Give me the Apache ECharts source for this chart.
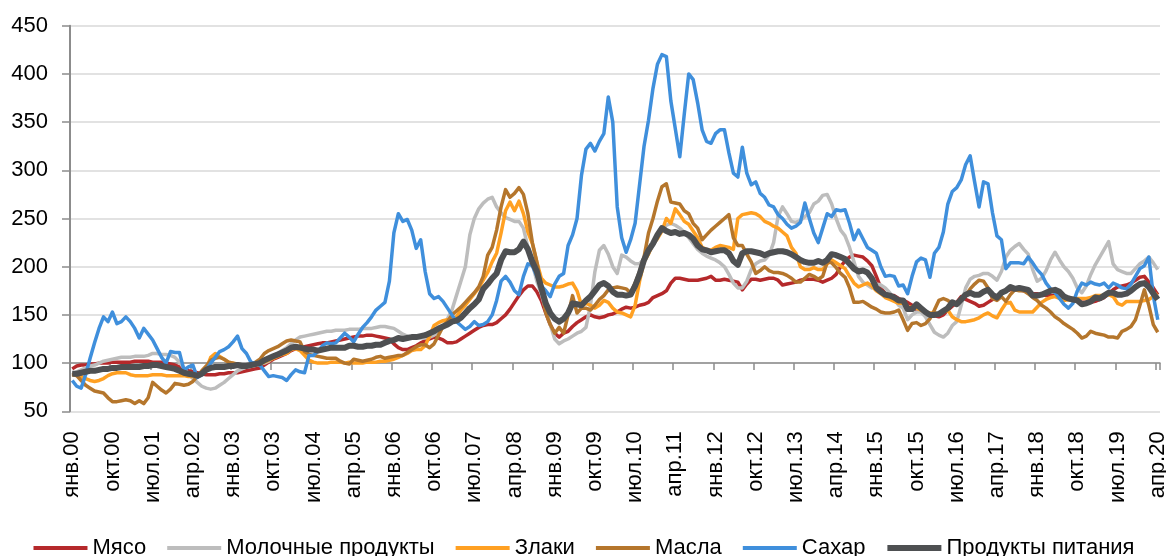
<!DOCTYPE html>
<html><head><meta charset="utf-8">
<script src="https://cdn.jsdelivr.net/npm/echarts@6/dist/echarts.min.js"></script>
<style>html,body{margin:0;padding:0;background:#fff}#c{width:1166px;height:556px}</style>
</head><body><div id="c"></div>
<script>
// Category labels: month abbreviations and years (monthly, янв.2000 – апр.2020)
const monthAbbr = ['янв','фев','мар','апр','май','июн','июл','авг','сен','окт','ноя','дек'];
const yearLabels = ['00','01','02','03','04','05','06','07','08','09','10','11','12','13','14','15','16','17','18','19','20'];
const monthsInLastYear = 4;

const seriesNames = ['Мясо','Молочные продукты','Злаки','Масла','Сахар','Продукты питания'];

const meat = [
 94,97,98,98,99,99,100,100,100,101,101,101,
 101,101,102,102,102,102,101,101,101,100,99,98,
 96,94,92,91,90,89,88,88,88,89,89,90,
 90,90,91,92,93,94,95,98,101,104,106,108,
 110,113,115,116,117,118,119,120,121,121,122,123,
 124,125,126,127,128,128,129,129,128,127,126,125,
 120,116,114,114,116,118,121,123,125,127,126,124,
 121,121,122,125,128,131,134,137,139,140,140,142,
 146,150,156,163,170,176,180,180,174,165,152,140,
 131,127,131,133,138,142,145,148,150,148,147,148,
 150,151,153,156,158,157,158,160,161,163,168,170,
 172,175,183,188,188,187,186,186,186,187,188,190,
 186,186,187,186,185,184,176,182,187,187,186,187,
 188,188,186,181,182,183,184,186,187,187,187,186,
 184,186,188,192,200,206,210,212,211,210,206,201,
 190,178,172,170,170,167,165,163,160,155,154,152,
 150,149,148,150,155,159,163,169,166,164,162,159,
 160,163,166,170,172,175,176,176,176,175,174,172,
 172,171,170,170,170,169,168,167,165,164,163,163,
 163,164,166,168,172,176,179,180,181,183,186,189,
 190,184,178,171
];
const dairy = [
 88,91,93,95,97,98,100,102,103,104,105,106,
 106,106,107,107,107,108,110,110,109,109,108,106,
 101,95,89,84,80,76,74,73,74,77,80,84,
 88,92,94,96,97,98,99,100,102,106,110,113,
 116,120,124,127,128,129,130,131,132,133,133,134,
 134,134,135,135,135,136,136,136,137,138,138,137,
 136,133,130,128,127,126,126,126,127,129,133,138,
 146,155,170,185,200,233,250,260,266,270,272,262,
 256,251,249,247,247,240,220,203,185,172,155,140,
 125,120,123,125,128,131,133,137,160,195,217,222,
 213,200,193,212,210,206,203,203,208,214,222,230,
 238,243,245,243,240,236,230,224,218,214,211,209,
 207,204,200,192,183,178,178,185,197,203,206,207,
 212,225,252,262,255,247,246,248,252,256,265,268,
 274,275,265,250,238,232,220,205,190,184,181,178,
 182,181,178,173,166,160,157,145,150,153,153,148,
 140,132,129,127,131,139,143,160,178,187,190,191,
 193,193,190,186,195,210,217,221,224,218,213,197,
 185,188,196,207,215,207,200,195,188,178,173,180,
 192,202,210,218,226,203,197,195,193,193,198,203,
 206,210,204,197
];
const cereals = [
 88,87,86,84,82,81,82,84,87,89,90,90,
 90,88,87,87,87,87,88,88,88,87,87,87,
 87,87,86,86,87,89,94,106,110,107,104,101,
 100,98,97,97,97,98,99,101,103,105,107,109,
 110,114,115,113,108,103,101,100,100,100,101,101,
 101,100,101,100,100,100,101,101,101,102,102,103,
 104,106,108,110,113,114,114,118,128,139,142,144,
 145,146,148,155,160,166,172,178,186,194,205,214,
 235,258,267,258,268,255,236,224,205,188,183,181,
 179,179,180,182,183,175,160,162,160,157,160,165,
 163,157,153,152,150,148,160,185,205,213,224,229,
 237,250,245,260,254,247,244,237,230,220,218,217,
 220,222,221,220,218,250,254,255,256,255,252,247,
 245,242,240,236,232,220,214,200,197,197,199,197,
 197,203,207,204,201,198,190,183,179,181,183,180,
 175,172,168,166,164,162,162,158,158,157,155,153,
 152,152,151,153,155,148,145,143,143,144,145,147,
 150,152,149,147,155,162,163,155,153,153,153,153,
 158,163,166,168,169,167,165,166,167,167,167,167,
 168,170,170,170,171,169,162,160,164,164,164,164,
 165,166,169,172
];
const oils = [
 89,87,82,77,74,71,70,69,64,60,60,61,
 62,61,58,61,58,64,80,76,72,69,73,79,
 78,77,78,81,86,92,97,103,105,106,104,101,
 100,99,98,98,98,101,104,110,113,115,117,120,
 123,124,123,122,112,109,108,107,106,105,105,105,
 102,100,99,104,103,102,103,104,106,107,105,106,
 107,108,108,111,114,117,119,119,116,120,129,138,
 143,150,154,158,163,168,173,179,190,212,220,238,
 262,280,272,276,282,275,255,225,205,180,152,140,
 131,137,131,150,170,152,157,157,155,160,166,170,
 176,178,179,178,177,173,183,195,210,235,250,268,
 283,286,267,266,265,258,255,245,240,228,233,238,
 242,246,250,254,230,222,222,213,205,193,196,200,
 196,194,194,193,191,188,184,184,188,192,190,187,
 190,205,204,199,193,189,178,163,163,164,161,158,
 156,153,152,152,153,155,145,134,141,142,139,141,
 146,155,165,167,165,162,162,165,170,177,182,186,
 185,178,167,165,169,164,171,176,175,175,172,168,
 165,160,157,153,148,145,141,138,135,131,126,128,
 133,131,130,129,127,127,126,133,135,138,145,160,
 176,160,140,132
];
const sugar = [
 82,76,74,88,105,121,136,148,143,153,141,143,
 148,143,136,126,136,130,124,115,106,100,112,111,
 111,93,96,98,85,88,93,100,106,112,114,117,
 122,128,115,110,101,100,98,92,86,87,86,85,
 82,88,93,91,90,108,108,112,118,121,120,121,
 126,131,127,122,130,137,142,148,155,159,163,185,
 235,255,247,249,238,219,228,195,172,167,169,164,
 157,150,143,139,135,138,143,139,140,143,150,165,
 185,190,184,175,171,190,203,201,190,180,175,169,
 182,190,193,222,233,250,295,322,328,320,330,338,
 376,350,262,230,215,228,245,285,325,352,385,410,
 420,418,372,343,314,358,400,394,370,342,330,328,
 338,342,342,318,297,293,324,297,285,288,276,272,
 264,262,254,250,244,240,242,246,266,250,235,225,
 240,255,252,259,258,259,245,228,238,229,220,217,
 214,200,190,191,190,180,181,172,190,205,209,207,
 189,214,220,236,265,278,282,290,306,315,288,262,
 288,286,256,232,228,198,204,204,204,203,210,204,
 197,192,183,177,173,167,161,157,162,175,183,181,
 184,182,181,183,178,183,181,178,177,182,190,198,
 201,210,170,145
];
const food = [
 89,89,90,91,92,92,93,94,94,95,95,96,
 96,96,96,96,97,97,98,98,97,96,95,94,
 92,90,89,88,87,89,93,95,96,96,96,97,
 97,98,97,97,98,99,100,103,105,107,109,111,
 113,116,117,116,115,114,114,113,114,115,116,116,
 116,116,118,118,117,117,118,118,119,119,121,123,
 124,126,125,126,127,127,128,129,131,133,136,138,
 140,143,144,147,152,157,161,166,177,182,188,193,
 207,216,215,215,218,226,218,205,195,178,162,152,
 146,143,146,152,162,161,160,165,169,175,181,183,
 180,174,171,171,170,171,180,192,207,217,224,233,
 240,237,235,236,234,235,233,229,222,218,217,215,
 216,217,217,214,206,202,214,216,216,215,214,212,
 214,215,216,216,215,213,210,207,205,204,204,206,
 204,207,213,212,210,208,203,198,195,196,194,188,
 178,174,171,170,168,165,165,156,156,161,157,153,
 150,150,151,154,157,163,161,166,171,173,171,171,
 174,176,171,168,173,175,179,177,178,177,176,170,
 170,171,173,175,176,174,169,167,166,165,161,162,
 164,168,167,170,173,173,171,171,172,175,179,182,
 183,179,172,166
];

const yMin = 50, yMax = 450, yStep = 50, axisCross = 100;

// Build category list
const categories = [];
yearLabels.forEach((y, i) => {
  const n = (i === yearLabels.length - 1) ? monthsInLastYear : 12;
  for (let m = 0; m < n; m++) categories.push(monthAbbr[m] + '.' + y);
});

const colors = ['#B5292B', '#BDBDBD', '#FFA022', '#B5762C', '#3F8FDC', '#4E5052'];
const widths = [3.5, 3.5, 3.5, 3.5, 3.5, 6];
const dataSets = [meat, dairy, cereals, oils, sugar, food];

const FONT = '"Liberation Sans", Arial, sans-serif';
const gridTop = 25.7, gridBottom = 144.7, H = 556;
const plotH = H - gridTop - gridBottom;
const crossOffset = -plotH * (axisCross - yMin) / (yMax - yMin);

const chart = echarts.init(document.getElementById('c'), null, {renderer: 'canvas'});
chart.setOption({
  animation: false,
  backgroundColor: '#fff',
  grid: {left: 70, right: 6, top: gridTop, bottom: gridBottom, outerBoundsMode: 'none'},
  legend: {
    left: 'center', top: 532, orient: 'horizontal',
    itemWidth: 54, itemHeight: 20, itemGap: 19,
    textStyle: {fontFamily: FONT, fontSize: 22, color: '#000'},
    data: seriesNames.map((n, i) => ({
      name: n,
      lineStyle: {width: i === 5 ? 6 : 4},
      itemStyle: {opacity: 0, borderWidth: 0}
    }))
  },
  xAxis: [{
    type: 'category', data: categories, boundaryGap: true, position: 'bottom',
    axisLine: {show: false}, axisTick: {show: false}, splitLine: {show: false},
    axisLabel: {interval: 8, rotate: 90, margin: 20, align: 'right', verticalAlign: 'middle',
      fontFamily: FONT, fontSize: 22, color: '#000', hideOverlap: false}
  }, {
    type: 'category', data: categories, boundaryGap: true, position: 'bottom', offset: crossOffset,
    axisLine: {show: true, onZero: false, lineStyle: {color: '#8C8C8C', width: 1.5}},
    axisTick: {show: true, interval: 8, length: 7, lineStyle: {color: '#8C8C8C', width: 1.5}},
    axisLabel: {show: false}, splitLine: {show: false}
  }],
  yAxis: {
    type: 'value', min: yMin, max: yMax, interval: yStep,
    axisLine: {show: true, lineStyle: {color: '#8C8C8C', width: 2}},
    axisTick: {show: true, length: 8, lineStyle: {color: '#8C8C8C', width: 1.5}},
    axisLabel: {margin: 22, fontFamily: FONT, fontSize: 22, color: '#000'},
    splitLine: {lineStyle: {color: '#D9D9D9', width: 1.5}}
  },
  series: seriesNames.map((n, i) => ({
    name: n, type: 'line', data: dataSets[i], symbol: 'none', showSymbol: false,
    xAxisIndex: 0, yAxisIndex: 0,
    lineStyle: {color: colors[i], width: widths[i], join: 'round'},
    itemStyle: {color: colors[i]}
  }))
});
</script>
</body></html>
